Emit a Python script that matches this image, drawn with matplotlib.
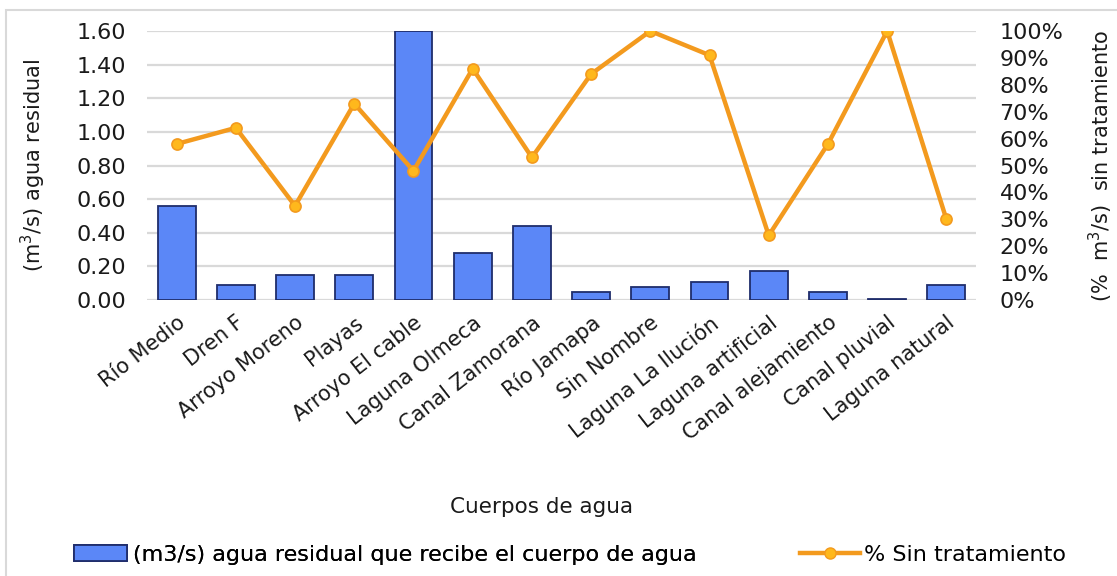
import matplotlib
matplotlib.use("Agg")
import matplotlib.pyplot as plt
from matplotlib.patches import Rectangle, Patch
from matplotlib.lines import Line2D
from matplotlib.ticker import FuncFormatter, MultipleLocator

categories = ['Río Medio', 'Dren F', 'Arroyo Moreno', 'Playas', 'Arroyo El cable',
              'Laguna Olmeca', 'Canal Zamorana', 'Río Jamapa', 'Sin Nombre',
              'Laguna La Ilución', 'Laguna artificial', 'Canal alejamiento',
              'Canal pluvial', 'Laguna natural']
flow_m3s = [0.56, 0.09, 0.15, 0.15, 1.60, 0.28, 0.44, 0.05, 0.075, 0.11, 0.17, 0.05, 0.005, 0.09]
pct_sin_tratamiento = [0.58, 0.64, 0.35, 0.73, 0.48, 0.86, 0.53, 0.84, 1.00, 0.91, 0.24, 0.58, 1.00, 0.30]

bar_label = '(m3/s) agua residual que recibe el cuerpo de agua'
line_label = '% Sin tratamiento'

plt.rcParams['font.family'] = ['DejaVu Sans']
W, H = 1117, 576
fig = plt.figure(figsize=(W / 100, H / 100), dpi=100)
fig.patch.set_facecolor('white')

# outer chart border
fig.patches.append(Rectangle((6 / W, -0.1), 1.2, 1.1 - 10 / H, transform=fig.transFigure,
                             fill=False, edgecolor='#D9D9D9', linewidth=1.5, clip_on=False))

ax = fig.add_axes([147 / W, 1 - 300 / H, (976 - 147) / W, (300 - 31) / H])
x = list(range(len(categories)))
ax.bar(x, flow_m3s, width=0.64, color='#5B87F7', edgecolor='#1F2D6B', linewidth=1.3, zorder=3)
ax.set_xlim(-0.5, len(categories) - 0.5)
ax.set_ylim(0, 1.6)
ax.yaxis.set_major_locator(MultipleLocator(0.2))
ax.yaxis.set_major_formatter(FuncFormatter(lambda v, p: f'{v:.2f}'))
ax.grid(axis='y', color='#D9D9D9', linewidth=1.6, zorder=0)
ax.set_axisbelow(True)
for s in ax.spines.values():
    s.set_visible(False)
ax.tick_params(axis='y', length=0, pad=15, labelsize=16, labelcolor='#1a1a1a')
ax.tick_params(axis='x', length=0, pad=9, labelsize=15, labelcolor='#1a1a1a')
ax.set_xticks(x)
ax.set_xticklabels(categories, rotation=38, ha='right', rotation_mode='anchor')
ax.set_ylabel('(m$^3$/s) agua residual', fontsize=15, color='#1a1a1a')
ax.yaxis.set_label_coords(-(147 - 48) / (976 - 147), 0.5)

ax2 = ax.twinx()
ax2.plot(x, pct_sin_tratamiento, color='#F39A1E', linewidth=3.2, marker='o', markersize=8,
         markerfacecolor='#FFB81C', markeredgecolor='#F39A1E', markeredgewidth=1.2, zorder=4)
ax2.set_ylim(0, 1.0)
ax2.yaxis.set_major_locator(MultipleLocator(0.1))
ax2.yaxis.set_major_formatter(FuncFormatter(lambda v, p: f'{v * 100:.0f}%'))
for s in ax2.spines.values():
    s.set_visible(False)
ax2.tick_params(axis='y', length=0, pad=17, labelsize=16, labelcolor='#1a1a1a')
ax2.set_ylabel('(%  m$^3$/s)  sin tratamiento', fontsize=15, color='#1a1a1a', rotation=90)
ax2.yaxis.set_label_coords(1 + (1087 - 976) / (976 - 147), 0.5)

fig.text(542 / W, 1 - 507 / H, 'Cuerpos de agua', ha='center', va='center',
         fontsize=15.5, color='#1a1a1a')

h1 = Patch(facecolor='#5B87F7', edgecolor='#1F2D6B', linewidth=1.3)
h2 = Line2D([], [], color='#F39A1E', linewidth=3.2, marker='o', markersize=8,
            markerfacecolor='#FFB81C', markeredgecolor='#F39A1E')
leg1 = fig.legend([h1], [bar_label], loc='center left', bbox_to_anchor=(74 / W, 1 - 555 / H),
                  frameon=False, fontsize=16, borderpad=0, borderaxespad=0,
                  handlelength=2.4, handleheight=0.7, handletextpad=0.25)
leg2 = fig.legend([h2], [line_label], loc='center left', bbox_to_anchor=(800 / W, 1 - 555 / H),
                  frameon=False, fontsize=16, borderpad=0, borderaxespad=0,
                  handlelength=2.7, handletextpad=0.2)
fig.add_artist(leg1)

fig.savefig('out.png', dpi=100, facecolor='white')
